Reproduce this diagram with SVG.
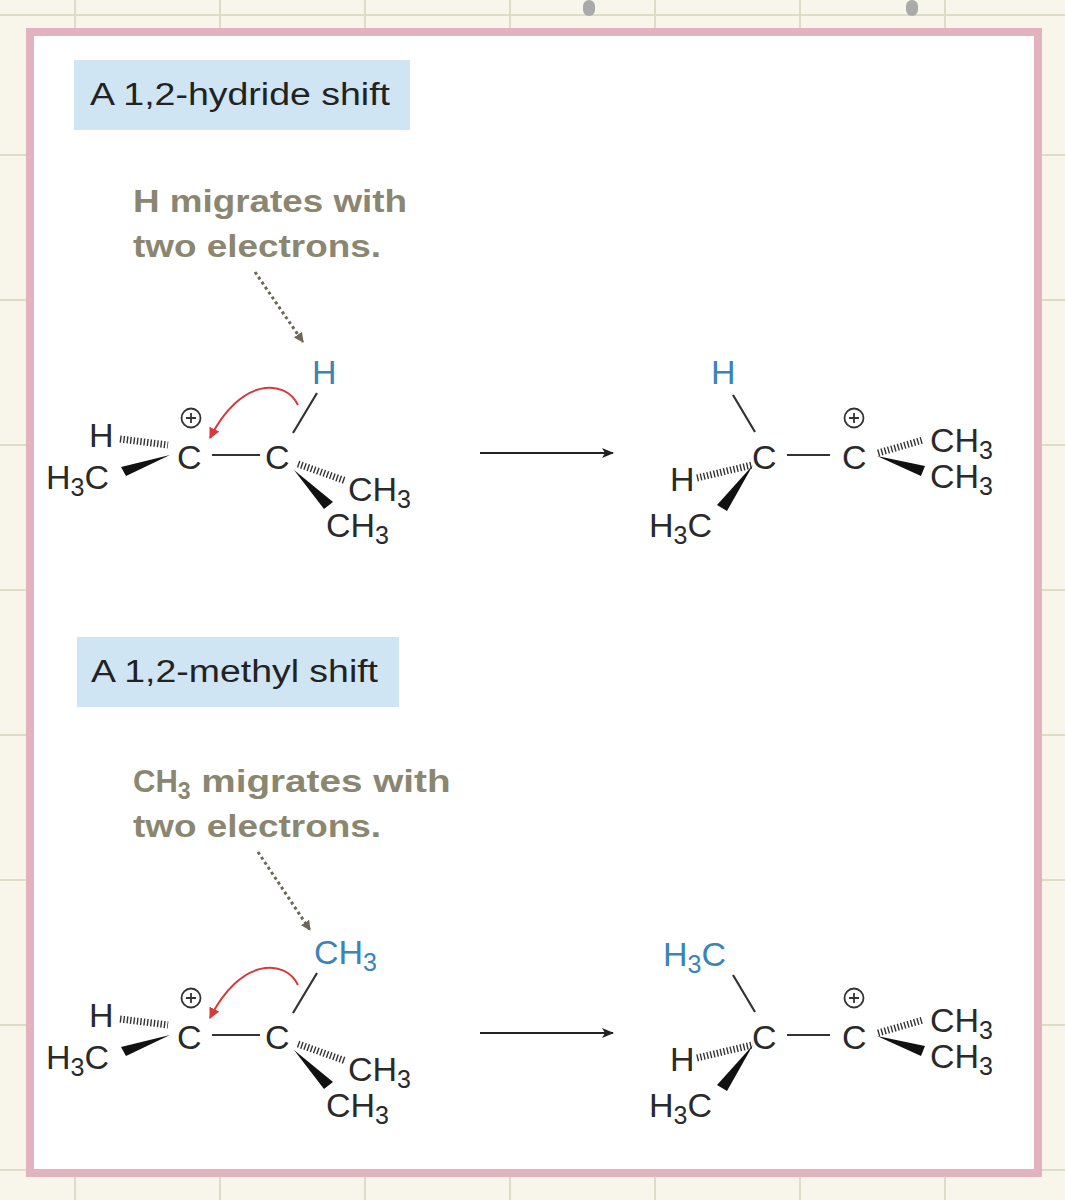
<svg xmlns="http://www.w3.org/2000/svg" width="1065" height="1200" viewBox="0 0 1065 1200">
<style>
text{font-family:"Liberation Sans",Arial,sans-serif}
.at{font-size:34px;fill:#2a2a2a}
.bl{fill:#3a84b8}
.sub{font-size:25px}
.lbl{font-size:31px;fill:#222}
.ann{font-size:31px;font-weight:bold;fill:#8a8670}
.bond{stroke:#333;stroke-width:2.2;fill:none}
.hash{stroke:#333;stroke-width:7;stroke-dasharray:1.4 2;fill:none}
.wedge{fill:#111}
.grid{stroke:#dcdcc8;stroke-width:2}
</style>
<defs>
<marker id="ah" viewBox="0 0 12 10" refX="11" refY="5" markerWidth="12" markerHeight="10" markerUnits="userSpaceOnUse" orient="auto"><path d="M0,0 L12,5 L0,10 L3,5 Z" fill="#222"/></marker>
<marker id="rh" viewBox="0 0 10 10" refX="9" refY="5" markerWidth="11" markerHeight="11" markerUnits="userSpaceOnUse" orient="auto"><path d="M0,0 L10,5 L0,10 Z" fill="#d63a3a"/></marker>
<marker id="gh" viewBox="0 0 10 10" refX="9" refY="5" markerWidth="10" markerHeight="10" markerUnits="userSpaceOnUse" orient="auto"><path d="M0,0 L10,5 L0,10 Z" fill="#6b6858"/></marker>
<g id="plus"><circle r="9.5" fill="none" stroke="#333" stroke-width="1.8"/><path d="M-5,0 H5 M0,-5 V5" stroke="#333" stroke-width="1.8"/></g>
</defs>
<rect width="1065" height="1200" fill="#f8f6ea"/>
<g class="grid">
<path d="M75,0V1200 M220,0V1200 M365,0V1200 M510,0V1200 M655,0V1200 M800,0V1200 M945,0V1200"/>
<path d="M0,15H1065 M0,155H1065 M0,300H1065 M0,445H1065 M0,590H1065 M0,735H1065 M0,880H1065 M0,1025H1065 M0,1170H1065"/>
</g>
<rect x="583" y="0" width="12" height="16" rx="6" fill="#aaa"/>
<rect x="906" y="0" width="12" height="16" rx="6" fill="#aaa"/>
<rect x="30" y="32" width="1008" height="1141" fill="#fff" stroke="#e2b3bf" stroke-width="8"/>

<g id="label1"><rect x="74" y="60" width="336" height="70" fill="#cfe5f4"/><text class="lbl" x="90" y="105" textLength="300" lengthAdjust="spacingAndGlyphs">A 1,2-hydride shift</text></g>
<g id="note1"><text class="ann" x="133" y="212" textLength="274" lengthAdjust="spacingAndGlyphs">H migrates with</text><text class="ann" x="133" y="257" textLength="248" lengthAdjust="spacingAndGlyphs">two electrons.</text></g>
<g id="reactant1">
<text class="at bl" x="312" y="384">H</text>
<use href="#plus" x="191" y="418"/>
<text class="at" x="177" y="469">C</text>
<text class="at" x="265" y="469">C</text>
<text class="at" x="89" y="447">H</text>
<text class="at" x="46" y="489">H<tspan class="sub" dy="7">3</tspan><tspan dy="-7">C</tspan></text>
<text class="at" x="348" y="501">CH<tspan class="sub" dy="7">3</tspan></text>
<text class="at" x="326" y="537">CH<tspan class="sub" dy="7">3</tspan></text>
<path class="bond" d="M212,455H260 M293,433L317,393"/>
<path class="hash" d="M120,439L168,445"/>
<path class="hash" d="M298,464L346,481"/>
<path class="wedge" d="M170,455L121,467L126,476Z"/>
<path class="wedge" d="M294,470L333,502L324,509Z"/>
<path d="M298,405C285,378 240,378 210,438" fill="none" stroke="#d63a3a" stroke-width="2" marker-end="url(#rh)"/>
</g>
<g id="product1">
<text class="at bl" x="711" y="384">H</text>
<path class="bond" d="M733,395L755,432 M787,455H830"/>
<text class="at" x="752" y="469">C</text>
<use href="#plus" x="854" y="418"/>
<text class="at" x="842" y="469">C</text>
<text class="at" x="930" y="452">CH<tspan class="sub" dy="7">3</tspan></text>
<text class="at" x="930" y="488">CH<tspan class="sub" dy="7">3</tspan></text>
<path class="hash" d="M878,453L923,440"/>
<path class="wedge" d="M877,456L925,466L921,476Z"/>
<text class="at" x="670" y="491">H</text>
<path class="hash" d="M697,478L752,465"/>
<path class="wedge" d="M753,465L717,505L727,511Z"/>
<text class="at" x="649" y="537">H<tspan class="sub" dy="7">3</tspan><tspan dy="-7">C</tspan></text>
</g>

<g id="label2"><rect x="77" y="637" width="322" height="70" fill="#cfe5f4"/><text class="lbl" x="91" y="682" textLength="287" lengthAdjust="spacingAndGlyphs">A 1,2-methyl shift</text></g>
<g id="note2"><text class="ann" x="133" y="792">CH<tspan font-size="23" dy="7">3</tspan><tspan dy="-7" textLength="260" lengthAdjust="spacingAndGlyphs"> migrates with</tspan></text><text class="ann" x="133" y="837" textLength="248" lengthAdjust="spacingAndGlyphs">two electrons.</text></g>
<g id="reactant2" transform="translate(0,580)">
<text class="at bl" x="314" y="384">CH<tspan class="sub" dy="7">3</tspan></text>
<use href="#plus" x="191" y="418"/>
<text class="at" x="177" y="469">C</text>
<text class="at" x="265" y="469">C</text>
<text class="at" x="89" y="447">H</text>
<text class="at" x="46" y="489">H<tspan class="sub" dy="7">3</tspan><tspan dy="-7">C</tspan></text>
<text class="at" x="348" y="501">CH<tspan class="sub" dy="7">3</tspan></text>
<text class="at" x="326" y="537">CH<tspan class="sub" dy="7">3</tspan></text>
<path class="bond" d="M212,455H260 M293,433L317,393"/>
<path class="hash" d="M120,439L168,445"/>
<path class="hash" d="M298,464L346,481"/>
<path class="wedge" d="M170,455L121,467L126,476Z"/>
<path class="wedge" d="M294,470L333,502L324,509Z"/>
<path d="M298,405C285,378 240,378 210,438" fill="none" stroke="#d63a3a" stroke-width="2" marker-end="url(#rh)"/>
</g>
<g id="product2" transform="translate(0,580)">
<text class="at bl" x="663" y="386">H<tspan class="sub" dy="7">3</tspan><tspan dy="-7">C</tspan></text>
<path class="bond" d="M733,395L755,432 M787,455H830"/>
<text class="at" x="752" y="469">C</text>
<use href="#plus" x="854" y="418"/>
<text class="at" x="842" y="469">C</text>
<text class="at" x="930" y="452">CH<tspan class="sub" dy="7">3</tspan></text>
<text class="at" x="930" y="488">CH<tspan class="sub" dy="7">3</tspan></text>
<path class="hash" d="M878,453L923,440"/>
<path class="wedge" d="M877,456L925,466L921,476Z"/>
<text class="at" x="670" y="491">H</text>
<path class="hash" d="M697,478L752,465"/>
<path class="wedge" d="M753,465L717,505L727,511Z"/>
<text class="at" x="649" y="537">H<tspan class="sub" dy="7">3</tspan><tspan dy="-7">C</tspan></text>
</g>

<g id="connectors">
<path d="M480,453H613" stroke="#222" stroke-width="2" marker-end="url(#ah)"/>
<path d="M480,1033H613" stroke="#222" stroke-width="2" marker-end="url(#ah)"/>
<path d="M255,272L303,342" stroke="#6b6858" stroke-width="3" stroke-dasharray="3 3" marker-end="url(#gh)"/>
<path d="M258,852L310,930" stroke="#6b6858" stroke-width="3" stroke-dasharray="3 3" marker-end="url(#gh)"/>
</g>
</svg>
